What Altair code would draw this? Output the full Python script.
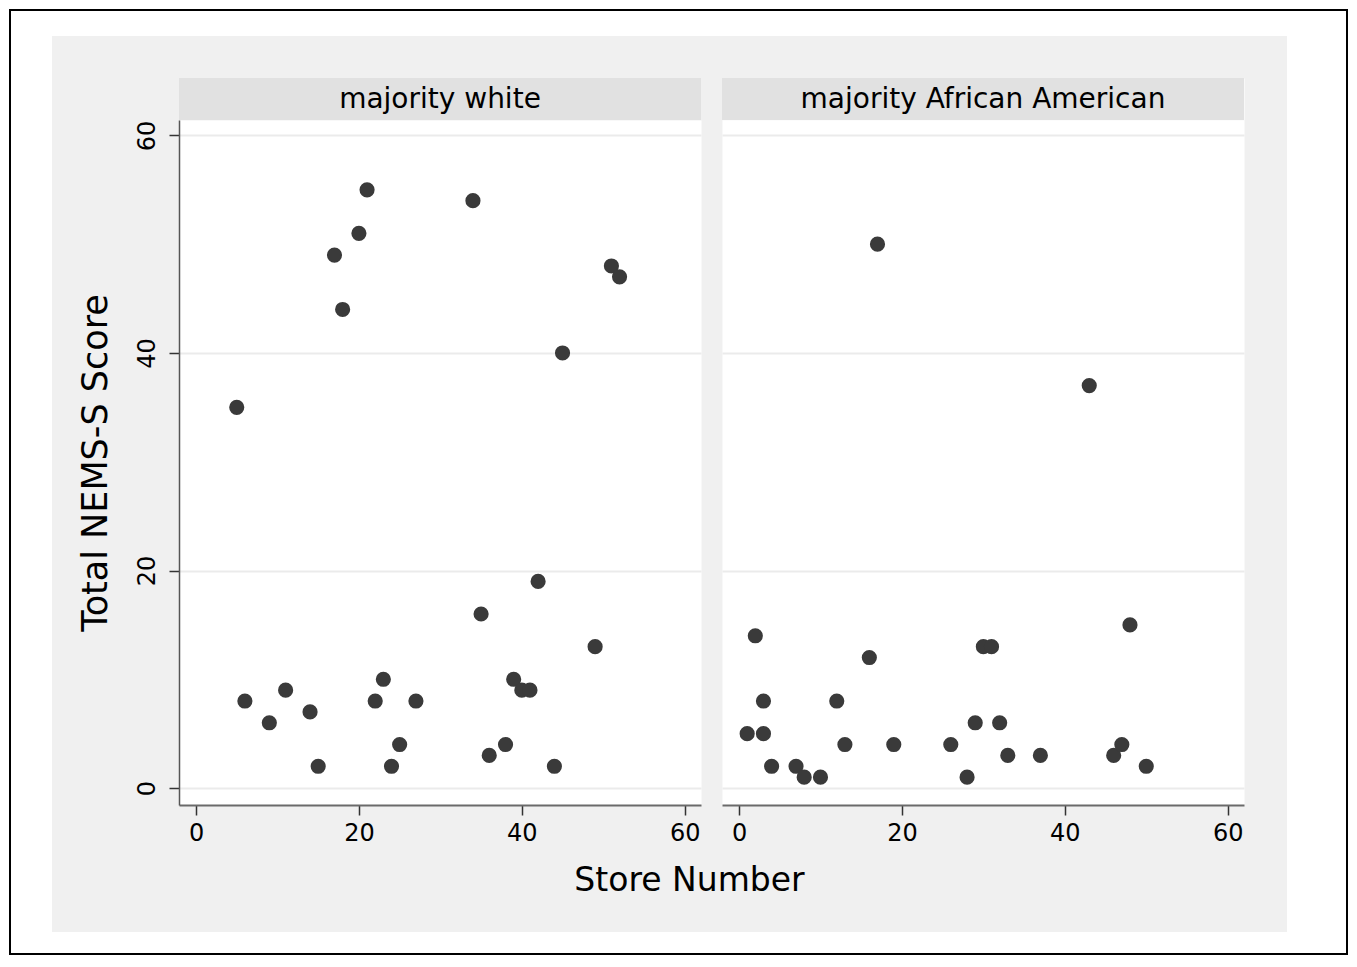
import altair as alt
import pandas as pd

# ---- data ----
panel_titles = ["majority white", "majority African American"]

white_store = [5, 6, 9, 11, 14, 15, 17, 18, 20, 21, 22, 23, 24, 25, 27,
               34, 35, 36, 38, 39, 40, 41, 42, 44, 45, 49, 51, 52]
white_score = [35, 8, 6, 9, 7, 2, 49, 44, 51, 55, 8, 10, 2, 4, 8,
               54, 16, 3, 4, 10, 9, 9, 19, 2, 40, 13, 48, 47]

aa_store = [1, 2, 3, 3, 4, 7, 8, 10, 12, 13, 16, 17, 19, 26, 28, 29, 30,
            31, 32, 33, 37, 43, 46, 47, 48, 50]
aa_score = [5, 14, 8, 5, 2, 2, 1, 1, 8, 4, 12, 50, 4, 4, 1, 6, 13,
            13, 6, 3, 3, 37, 3, 4, 15, 2]

tick_values = [0, 20, 40, 60]
x_title = "Store Number"
y_title = "Total NEMS-S Score"

FONT = "DejaVu Sans"
W = 522      # panel plot width
HH = 42      # header strip height
PH = 685     # panel plot height

x_scale = alt.Scale(domain=[-2.09, 62.0], nice=False, zero=False)
y_scale = alt.Scale(domain=[-1.56, 61.42], nice=False, zero=False)


def header(label, decorate):
    base = alt.Chart(pd.DataFrame({"label": [label]}))
    layers = []
    if decorate:
        # outer white frame with black border and the grey figure background
        layers.append(base.mark_rect(fill="white", stroke="black", strokeWidth=2).encode(
            x=alt.value(-169), x2=alt.value(1168), y=alt.value(-68), y2=alt.value(876)))
        layers.append(base.mark_rect(fill="#f0f0f0").encode(
            x=alt.value(-127), x2=alt.value(1108), y=alt.value(-42), y2=alt.value(854)))
    layers.append(base.mark_rect(fill="#e1e1e1").encode(
        x=alt.value(0), x2=alt.value(W), y=alt.value(0), y2=alt.value(HH)))
    layers.append(base.mark_text(font=FONT, fontSize=28, color="black",
                                 align="center", baseline="alphabetic").encode(
        text="label:N", x=alt.value(W / 2), y=alt.value(30)))
    return alt.layer(*layers).properties(width=W, height=HH)


def panel(stores, scores, left):
    df = pd.DataFrame({"store": stores, "score": scores})
    xaxis = alt.Axis(values=tick_values, title=None, grid=False, tickSize=10,
                     tickColor="#333333", tickWidth=1.5, domainColor="#6a6a6a",
                     domainWidth=2, labelPadding=6, format="d")
    if left:
        yaxis = alt.Axis(values=tick_values, title=y_title, labelAngle=-90,
                         labelAlign="center", labelBaseline="bottom", tickSize=10,
                         tickColor="#333333", tickWidth=1.5, labelPadding=10,
                         titlePadding=22, domainColor="#555555", domainWidth=1.5,
                         grid=True, gridColor="#ebebeb", gridWidth=2, format="d")
    else:
        yaxis = alt.Axis(values=tick_values, title=None, labels=False, ticks=False,
                         domain=False, grid=True, gridColor="#ebebeb", gridWidth=2)
    pts = alt.Chart(df).mark_circle(size=230, color="#3a3a3a", opacity=1).encode(
        x=alt.X("store:Q", scale=x_scale, axis=xaxis),
        y=alt.Y("score:Q", scale=y_scale, axis=yaxis),
    )
    layers = [pts]
    if left:
        t = alt.Chart(pd.DataFrame({"t": [x_title]})).mark_text(
            font=FONT, fontSize=33, color="black", align="center", baseline="alphabetic"
        ).encode(text="t:N", x=alt.value(510.5), y=alt.value(771))
        layers.append(t)
    return alt.layer(*layers).properties(width=W, height=PH)


chart = alt.concat(
    header(panel_titles[0], True),
    header(panel_titles[1], False),
    panel(white_store, white_score, True),
    panel(aa_store, aa_score, False),
    columns=2,
    spacing={"row": 0, "column": 21},
    bounds="flush",
).properties(
    padding=0, background="white"
).configure_view(fill="white", stroke="transparent").configure_axis(
    labelFont=FONT, titleFont=FONT, labelFontSize=24, titleFontSize=35,
    titleFontWeight="normal", labelColor="black", titleColor="black"
)

chart.save("out.html", embed_options={"renderer": "svg", "actions": False})
